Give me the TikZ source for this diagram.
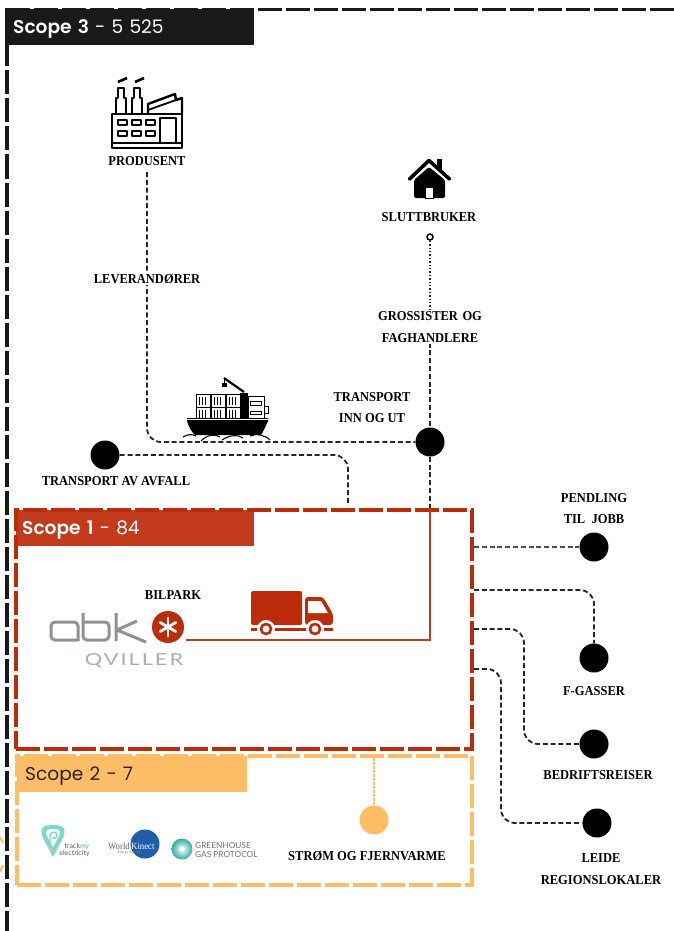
\documentclass[tikz,border=0pt]{standalone}
\usepackage{fontspec}
\setmainfont[FakeStretch=0.92]{Liberation Serif}
\newfontfamily\scopefont[BoldFont={Poppins SemiBold}]{Poppins}
\newfontfamily\logofont{Lato}
\newfontfamily\spacedfont[LetterSpace=12,FakeStretch=1.32]{Lato}
\usetikzlibrary{calc}
\definecolor{sthree}{HTML}{1A1A1A}
\definecolor{soneframe}{HTML}{BC2C0B}
\definecolor{sonefill}{HTML}{C23B1C}
\definecolor{stwo}{HTML}{FFBE66}
\definecolor{logogray}{HTML}{8F9294}
\definecolor{logoteal}{HTML}{7FD8C6}
\definecolor{logoblue}{HTML}{1F5FA8}
\definecolor{ghgteal}{HTML}{2FAFA0}
\tikzset{
  lbl/.style={font=\fontsize{13.6}{14}\selectfont\bfseries,fill=white,inner sep=1pt,align=center,text=black},
  lblnofill/.style={font=\fontsize{13.6}{14}\selectfont\bfseries,inner sep=1pt,align=center,text=black},
  blob/.style={circle,fill=black,minimum size=29,inner sep=0},
  conn/.style={black!85,line width=1.8,dash pattern=on 5 off 2.8,rounded corners=14},
  frame3/.style={sthree,line width=3.6,dash pattern=on 24 off 4},
  frame1/.style={draw=soneframe,line width=3.6,dash pattern=on 24 off 4,minimum width=456,minimum height=239,inner sep=0},
  frame2/.style={draw=stwo,line width=3.6,dash pattern=on 24 off 4,minimum width=455,minimum height=129,inner sep=0},
  header/.style={anchor=north west,inner sep=0,minimum height=36,align=left,
     font=\fontsize{18.6}{22}\selectfont\scopefont},
  iconline/.style={line width=2.4,line join=round,draw=black},
}
\begin{document}
\begin{tikzpicture}[x=1pt,y=-1pt]
\useasboundingbox (0,0) rectangle (674,931);
% Scope 3 frame
\coordinate (s3tr) at (674,9.5);
\coordinate (s3tl) at (7,9.5);
\coordinate (s3bl) at (7,931);
\draw[frame3] (s3tr) -- (s3tl) -- (s3bl);
\node[header,fill=sthree,text=white,minimum width=249,text width=249] (h3) at (5,9)
  {\hspace*{8pt}\smash{\raisebox{-6pt}{\textbf{Scope 3} - 5 525}}};
% orange remnant at the left margin
\draw[stwo,line width=2] (0,837) -- (3,843);
\draw[stwo,line width=2] (3,865) -- (0,872);
% Scope 1 and 2 headers + frames
\node[header,fill=sonefill,text=white,minimum width=238,text width=238] (h1) at (16,510)
  {\hspace*{6pt}\smash{\raisebox{-6pt}{\textbf{Scope 1} - 84}}};
\node[frame1] (f1) at (244,629.5) {};
\node[header,fill=stwo,text=black!85,minimum width=230,text width=230] (h2) at (17,756)
  {\hspace*{8pt}\smash{\raisebox{-6.5pt}{Scope 2 - 7}}};
\node[frame2] (f2) at (244.5,820.5) {};

% blobs
\node[blob] (td) at (430,442) {};
\node[blob] (wd) at (105,455) {};
\node[blob] (pd) at (594,547) {};
\node[blob] (fd) at (594,658) {};
\node[blob] (bd) at (594,744) {};
\node[blob] (ld) at (597,823) {};
\node[circle,fill=stwo,minimum size=29,inner sep=0] (ed) at (374,820) {};
\node[circle,draw=black,line width=1.5,fill=white,minimum size=6,inner sep=0] (sd) at (430,237) {};

% anchors
\coordinate (prodout) at (147,172);
\coordinate (wtop) at (348,506);
\coordinate (tbot) at (430,508);
\coordinate (r1) at (474,547);
\coordinate (r2) at (474,590);
\coordinate (r3) at (474,629);
\coordinate (r4) at (474,669);
\coordinate (e1) at (374,758);
\coordinate (glabel) at (430,327);
\coordinate (logoout) at (186,640);

% connectors
\draw[conn] (prodout) |- (td);
\draw[conn] (wd) -| (wtop);
\draw[conn] (glabel) -- (td);
\draw[conn] (td) -- (tbot);
\draw[black!85,line width=1.4,dotted] (sd) -- (glabel);
\draw[sonefill,line width=2] (tbot) |- (logoout);
\draw[conn,black!70] (r1) -- (pd);
\draw[conn] (r2) -| (fd);
\draw[conn] (r3) -- (524,629) -- (524,744) -- (bd);
\draw[conn] (r4) -- (501,669) -- (501,823) -- (ld);
\draw[stwo,line width=1.2,dash pattern=on 3 off 1] (e1) -- (ed);

% labels
\node[lblnofill] (lprod) at (147,161) {PRODUSENT};
\node[lbl] (llev) at (147,279) {LEVERANDØRER};
\node[lblnofill] (lslut) at (429,217) {SLUTTBRUKER};
\node[lbl,text width=110,font=\fontsize{13.6}{22}\selectfont\bfseries] (lgros) at (430,327) {GROSSISTER OG\\FAGHANDLERE};
\node[lblnofill,font=\fontsize{13.6}{21}\selectfont\bfseries] (ltr) at (372,407.5) {TRANSPORT\\INN OG UT};
\node[lblnofill] (lwaste) at (116,481) {TRANSPORT AV AVFALL};
\node[lblnofill,font=\fontsize{13.6}{21}\selectfont\bfseries] (lpend) at (594,508.5) {PENDLING\\TIL\ \ JOBB};
\node[lblnofill] (lf) at (594,691) {F-GASSER};
\node[lblnofill] (lb) at (598,775) {BEDRIFTSREISER};
\node[lblnofill,font=\fontsize{13.6}{22}\selectfont\bfseries] (ll) at (601,869) {LEIDE\\REGIONSLOKALER};
\node[lblnofill] (lbil) at (173,595) {BILPARK};
\node[lblnofill] (lstr) at (367,856) {STRØM OG FJERNVARME};

% factory icon
\draw[iconline] (112,114) rectangle (182,148);
\draw[iconline] (112,143) -- (182,143);
\draw[iconline] (160,118) rectangle (176,143);
\draw[iconline] (116,114) -- (116,98) -- (118,98) -- (118,88) -- (124,88) -- (124,98) -- (126,98) -- (126,114);
\draw[iconline] (132,114) -- (132,98) -- (134,98) -- (134,88) -- (140,88) -- (140,98) -- (142,98) -- (142,114);
\draw[iconline,line width=2.6] (118,82) -- (127,78) (135,82) -- (144,78);
\draw[iconline] (148,114) -- (148,104) -- (175,94) -- (176,100) -- (182,98) -- (182,114);
\draw[iconline,line width=1.8] (148,110) -- (176,100);
\foreach \xx in {118,132,146}{
  \draw[iconline,line width=2.2] (\xx,120) rectangle ++(9,5);
  \draw[iconline,line width=2.2] (\xx,131) rectangle ++(9,5);
}

% house icon
\fill[black] (437,159) rectangle (442,171);
\draw[black,line width=3.6,line cap=round,line join=round] (409.5,179) -- (429,160.5) -- (449.5,179);
\fill[black,rounded corners=1.5] (414,180) -- (429,167) -- (445,180) -- (445,198) -- (414,198) -- cycle;
\fill[white] (425,187) rectangle (433,198);
\draw[black,line width=1] (425,187) rectangle (433,198);

% ship icon
\foreach \xx in {196,211,226}{
  \foreach \yy in {394,407}{
    \draw[black,line width=0.9,fill=white] (\xx,\yy) rectangle ++(14.5,13);
    \draw[black,line width=0.9] (\xx+3.5,\yy+3) -- ++(0,8) (\xx+6.5,\yy+3) -- ++(0,8) (\xx+9.5,\yy+3) -- ++(0,8);
  }
}
\fill[black] (240,393) rectangle (248,419);
\draw[black,line width=1,fill=white] (248,396) rectangle (264,419);
\draw[black,line width=1] (250,401) rectangle (261,405) (250,411) rectangle (261,414);
\draw[black,line width=1] (264,406) rectangle (268,413);
\draw[black,line width=2.2] (244,392) -- (224,378);
\draw[black,line width=1] (224,378) -- (224,383);
\fill[black] (221.5,383) rectangle (226.5,387);
\fill[black] (187,418) -- (268,418) -- (268,421) .. controls (265,428) and (263,432) .. (261,435) -- (195,435) .. controls (192,432) and (189,428) .. (187,421) -- cycle;
\draw[white,line width=1.4] (187,419.5) -- (268,419.5);
\draw[black,line width=1.1] (183,437) .. controls (188,434) and (192,434) .. (196,436)
   (201,441) .. controls (208,434) and (215,434) .. (220,437)
   (222,440) .. controls (230,435) and (237,434) .. (243,438)
   (250,436) .. controls (256,433) and (265,435) .. (270,440);

% truck icon
\fill[soneframe,rounded corners=2] (251,591) rectangle (302,625);
\fill[soneframe,rounded corners=3] (305,597) -- (323,597) -- (333,614) -- (333,625) -- (305,625) -- cycle;
\fill[white] (308,601) -- (321,601) -- (328,613) -- (308,613) -- cycle;
\fill[soneframe] (251,628) rectangle (333,631);
\foreach \xx in {266,315}{
  \fill[white] (\xx,629) circle (9);
  \draw[soneframe,line width=2.6,fill=white] (\xx,629) circle (5);
}
\fill[soneframe] (251,628) rectangle (256,631);
\fill[soneframe] (327,628) rectangle (333,631);

% abk logo
\draw[logogray,line width=3,rounded corners=4] (78,641) -- (78,622) -- (51,622) -- (51,640) -- (78,640);
\draw[logogray,line width=3,rounded corners=4] (83,613) -- (83,640) -- (109,640) -- (109,622) -- (83,622);
\draw[logogray,line width=3] (116,613) -- (116,641) (117,630) -- (137,621) (117,630) -- (146,642);
\node[circle,fill=soneframe,minimum size=32,inner sep=0] (star) at (168,627) {};
\foreach \aa in {30,90,150}{
  \draw[white,line width=2.8,line cap=round] ($(star)+(\aa:9)$) -- ($(star)+(\aa+180:9)$);
}
\node[text=logogray!75,font=\fontsize{16.5}{18}\selectfont\spacedfont,inner sep=0] (qv) at (134,660.5) {QVILLER};

% trackmyelectricity logo
\fill[logoteal] (53,857) -- (43,838) .. controls (38,826) and (46,825) .. (53,825) .. controls (60,825) and (68,826) .. (63,838) -- cycle;
\fill[white] (53,847) -- (47,836) .. controls (44,829) and (49,829) .. (53,829) .. controls (57,829) and (62,829) .. (59,836) -- cycle;
\draw[logoteal,line width=1.4] (50,843) -- (50,836) .. controls (50,831) and (57,831) .. (57,835) .. controls (57,839) and (53,839) .. (52,838);
\draw[stwo,line width=1.4] (49,847) -- (52,852);
\node[font=\fontsize{7}{7}\selectfont\logofont,text=black!65,inner sep=0] (tm) at (77,847) {track\textcolor{logoteal!80!black}{my}};
\node[font=\fontsize{7}{7}\selectfont\logofont,text=black!65,inner sep=0] (te) at (74.5,854) {electricity};

% World Kinect logo
\node[circle,fill=logoblue,minimum size=29,inner sep=0] (wk) at (145,844) {};
\node[font=\fontsize{9.5}{9}\selectfont,text=black!60,inner sep=0,anchor=east] (ww) at (130,846.5) {World};
\node[font=\fontsize{9.5}{9}\selectfont,text=white,inner sep=0,anchor=west] (wk2) at (131,846.5) {Kinect};
\node[font=\fontsize{3.5}{4}\selectfont\logofont,text=logoteal!70!black,inner sep=0] (ws) at (130,853) {Energy Services};

% GHG protocol logo
\shade[inner color=white,outer color=ghgteal] (182,849) circle (10.5);
\fill[white] (182,849) circle (2.5);
\node[font=\fontsize{8.3}{9.2}\selectfont\logofont,text=black!55,inner sep=0,align=left,anchor=west] (gh) at (195,850) {GREENHOUSE\\GAS PROTOCOL};
\end{tikzpicture}
\end{document}
